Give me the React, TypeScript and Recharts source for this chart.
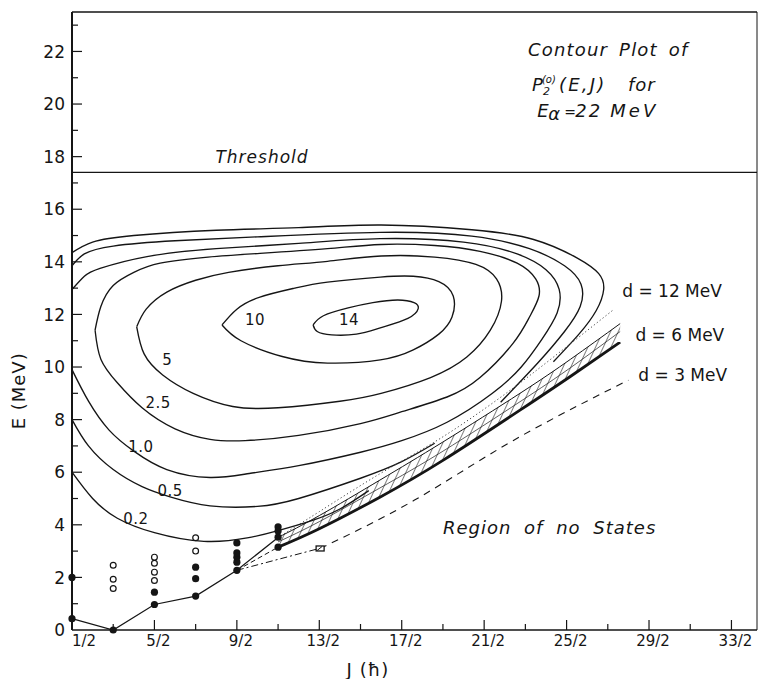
import React from 'react';
import { ComposedChart, XAxis, YAxis, Line, Area, Scatter, ReferenceLine, ReferenceDot } from 'recharts';

const FONT = "'DejaVu Sans', 'Liberation Sans', sans-serif";
const INK = '#151515';

// ---- axes ----
const jTicks = [0.5, 1.5, 2.5, 3.5, 4.5, 5.5, 6.5, 7.5, 8.5, 9.5, 10.5, 11.5, 12.5, 13.5, 14.5, 15.5, 16.5];
const jTickLabels = ['1/2', '5/2', '9/2', '13/2', '17/2', '21/2', '25/2', '29/2', '33/2'];
const eTicks = [0, 1, 2, 3, 4, 5, 6, 7, 8, 9, 10, 11, 12, 13, 14, 15, 16, 17, 18, 19, 20, 21, 22, 23];
const eTickLabels = ['0', '2', '4', '6', '8', '10', '12', '14', '16', '18', '20', '22'];
const J_DOMAIN: [number, number] = [0.5, 17.12];
const E_DOMAIN: [number, number] = [0, 23.5];

type P = [number, number];

// ---- contours of P2(E,J), [J, E] ----
const contour14: P[] = [
  [6.35, 11.6], [6.6, 11.95], [7.2, 12.25], [7.8, 12.45], [8.4, 12.55], [8.8, 12.45], [8.9, 12.22],
  [8.65, 11.85], [8.0, 11.5], [7.4, 11.25], [6.8, 11.22], [6.45, 11.35], [6.35, 11.6],
];
const contour10: P[] = [
  [4.14, 11.6], [4.5, 12.2], [5.06, 12.66], [5.9, 13.0], [6.7, 13.23], [7.98, 13.42], [8.78, 13.45],
  [9.4, 13.25], [9.75, 12.7], [9.72, 11.9], [9.4, 11.25], [8.78, 10.65], [7.98, 10.27], [6.7, 10.15],
  [5.6, 10.4], [4.6, 11.0], [4.14, 11.6],
];
const contour5: P[] = [
  [2.07, 11.53], [2.3, 12.2], [2.8, 12.85], [3.5, 13.3], [4.3, 13.6], [5.5, 13.85], [6.7, 14.02],
  [8.0, 14.22], [9.3, 14.18], [10.3, 13.9], [10.8, 13.35], [10.92, 12.5], [10.65, 11.4], [10.08, 10.38],
  [9.2, 9.6], [8.0, 9.0], [7.0, 8.7], [5.5, 8.45], [4.4, 8.5], [3.44, 9.0], [2.7, 9.7], [2.25, 10.5], [2.07, 11.53],
];
const contour2p5: P[] = [
  [1.06, 11.4], [1.2, 12.3], [1.5, 13.1], [2.0, 13.6], [2.64, 13.95], [3.8, 14.18], [5.06, 14.32],
  [6.7, 14.5], [8.0, 14.66], [9.3, 14.62], [10.4, 14.4], [11.3, 13.95], [11.75, 13.35], [11.83, 12.7],
  [11.6, 11.9], [11.2, 10.9], [10.4, 9.6], [9.6, 8.86], [8.5, 8.3], [7.5, 7.85], [6.0, 7.4], [4.7, 7.2],
  [3.85, 7.25], [3.0, 7.65], [2.2, 8.45], [1.6, 9.4], [1.2, 10.3], [1.06, 11.4],
];
const contour1p0: P[] = [
  [0.5, 12.95], [0.8, 13.45], [1.18, 13.75], [2.32, 14.2], [4.0, 14.5], [6.0, 14.7], [7.98, 14.88],
  [10.0, 14.75], [11.3, 14.3], [12.0, 13.7], [12.32, 12.95], [12.27, 12.05], [11.9, 11.05], [11.4, 10.0],
  [10.7, 9.0], [9.6, 7.9], [8.5, 7.2], [7.5, 6.76], [6.0, 6.25], [4.8, 5.95], [3.85, 5.8], [2.8, 6.1],
  [2.0, 6.8], [1.4, 7.6], [0.9, 8.7], [0.5, 9.9],
];
const contour0p5Upper: P[] = [
  [0.5, 13.85], [0.8, 14.3], [1.5, 14.6], [3.0, 14.8], [5.0, 14.95], [7.98, 15.12], [10.2, 14.98],
  [11.6, 14.5], [12.45, 13.85], [12.85, 13.15], [12.83, 12.3], [12.45, 11.35], [11.8, 10.15], [10.9, 8.66],
];
const contour0p5Lower: P[] = [
  [0.5, 8.0], [0.9, 7.0], [1.5, 6.1], [2.2, 5.45], [2.9, 5.05], [3.85, 4.72], [5.0, 4.7], [6.0, 5.0],
  [7.5, 5.77], [8.5, 6.4], [9.3, 7.1],
];
const contour0p2Upper: P[] = [
  [0.5, 14.35], [1.0, 14.75], [2.0, 15.0], [4.0, 15.2], [6.0, 15.3], [8.0, 15.4], [10.2, 15.22],
  [11.7, 14.85], [12.75, 14.15], [13.28, 13.55], [13.4, 12.95], [13.22, 12.15], [12.8, 11.25], [12.18, 10.2],
];
const contour0p2Lower: P[] = [
  [0.5, 6.0], [1.0, 5.0], [1.6, 4.25], [2.5, 3.7], [3.7, 3.37], [4.75, 3.5], [5.5, 3.78], [6.3, 4.15],
  [7.0, 4.6], [7.7, 5.3],
];

// ---- boundaries and lowest states ----
const yrastLine: P[] = [[0.5, 0.43], [1.5, 0], [2.5, 0.97], [3.5, 1.29], [4.5, 2.27], [5.5, 3.52]];
const dashShort: P[] = [[4.5, 2.27], [5.5, 3.15]];
const dashDot: P[] = [[4.5, 2.27], [6.45, 3.08]];
const d12Line: P[] = [[5.5, 3.52], [6.5, 4.5], [7.98, 5.95], [9.4, 7.25], [10.9, 8.85], [12.2, 10.4], [13.63, 12.17]];
const d3Line: P[] = [[6.52, 3.1], [8.8, 4.93], [11.2, 7.2], [14.0, 9.5]];
const bandJ = [5.5, 6.5, 7.97, 9.5, 11.37, 12.6, 13.8];
const bandLow = [3.15, 3.85, 5.05, 6.45, 8.36, 9.65, 10.95];
const bandHigh = [3.52, 4.35, 5.7, 7.15, 9.0, 10.3, 11.65];
const bandMid = [3.35, 4.12, 5.4, 6.8, 8.68, 9.98, 11.35];

const filledDots: P[] = [
  [0.5, 0.43], [0.5, 2.0], [1.5, 0], [2.5, 0.97], [2.5, 1.44], [3.5, 1.29], [3.5, 1.95], [3.5, 2.39],
  [4.5, 2.27], [4.5, 2.58], [4.5, 2.77], [4.5, 2.93], [4.5, 3.31], [5.5, 3.15], [5.5, 3.53], [5.5, 3.76], [5.5, 3.92],
];
const openDots: P[] = [
  [1.5, 1.58], [1.5, 1.93], [1.5, 2.46], [2.5, 1.88], [2.5, 2.2], [2.5, 2.54], [2.5, 2.77], [3.5, 3.0], [3.5, 3.51],
];
const squareMark: P[] = [[6.52, 3.1]];
const THRESHOLD = 17.4;

const contourLabels = [
  { J: 7.22, E: 11.79, text: '14' },
  { J: 4.94, E: 11.82, text: '10' },
  { J: 2.81, E: 10.3, text: '5' },
  { J: 2.59, E: 8.66, text: '2.5' },
  { J: 2.17, E: 6.99, text: '1.0' },
  { J: 2.88, E: 5.31, text: '0.5' },
  { J: 2.05, E: 4.25, text: '0.2' },
];

const pts = (a: P[]) => a.map(([J, E]) => ({ J, E }));
const bandData = bandJ.map((J, i) => ({ J, band: [bandLow[i], bandHigh[i]] }));
const bandLowPts = bandJ.map((J, i) => ({ J, E: bandLow[i] }));
const bandHighPts = bandJ.map((J, i) => ({ J, E: bandHigh[i] }));
const bandMidPts = bandJ.map((J, i) => ({ J, E: bandMid[i] }));

// ---- ticks ----
const BottomTick = (props: any) => {
  const { x, y, payload } = props;
  const v = payload.value as number;
  const k = Math.round(v - 0.5);
  const major = k % 2 === 0;
  const idx = k / 2;
  return (
    <g>
      {k > 0 && <line x1={x} x2={x} y1={y} y2={y - (major ? 10 : 6)} stroke={INK} strokeWidth={1.2} />}
      {major && (
        <text x={x + (idx === 0 ? 12 : 4)} y={y + 16} textAnchor="middle" fontSize={15} fontFamily={FONT} fill={INK}>
          {jTickLabels[idx]}
        </text>
      )}
    </g>
  );
};
const TopTick = (props: any) => {
  const { x, y, payload } = props;
  if (payload.value <= 0.5) return <g />;
  return <line x1={x} x2={x} y1={y} y2={y + 6} stroke={INK} strokeWidth={1} />;
};
const LeftTick = (props: any) => {
  const { x, y, payload } = props;
  const v = payload.value as number;
  const major = v % 2 === 0;
  return (
    <g>
      {v > 0 && <line x1={x} x2={x + (major ? 10 : 6)} y1={y} y2={y} stroke={INK} strokeWidth={1.2} />}
      {major && (
        <text x={x - 7} y={y} dy="0.36em" textAnchor="end" fontSize={17} fontFamily={FONT} fill={INK}>
          {eTickLabels[v / 2]}
        </text>
      )}
    </g>
  );
};
const RightTick = (props: any) => {
  const { x, y, payload } = props;
  if (payload.value <= 0) return <g />;
  return <line x1={x} x2={x - 8} y1={y} y2={y} stroke={INK} strokeWidth={1} />;
};

const lineProps = {
  dataKey: 'E',
  dot: false,
  activeDot: false,
  isAnimationActive: false,
  fill: 'none',
} as const;

const contour = (key: string, data: P[], type: 'natural' | 'linear' = 'natural') => (
  <Line key={key} {...lineProps} data={pts(data)} type={type} stroke={INK} strokeWidth={1.35} />
);

const note = (key: string, J: number, E: number, render: (x: number, y: number) => React.ReactNode) => (
  <ReferenceDot key={key} x={J} y={E} r={0} ifOverflow="visible" shape={(p: any) => <g>{render(p.cx, p.cy)}</g>} />
);

const T = { fontFamily: FONT, fill: INK } as const;

export default function App() {
  return (
    <div style={{ position: 'absolute', left: 0, top: 0, width: 759, height: 679, background: '#fff' }}>
      <ComposedChart width={759} height={679} margin={{ top: 0, right: 0, bottom: 0, left: 0 }}>
        <defs>
          <pattern id="hatch" width="7" height="7" patternUnits="userSpaceOnUse" patternTransform="rotate(25)">
            <line x1="0" y1="0" x2="0" y2="7" stroke="#111" strokeWidth="1.1" />
          </pattern>
        </defs>
        <XAxis
          type="number"
          dataKey="J"
          domain={J_DOMAIN}
          ticks={jTicks}
          interval={0}
          height={49}
          tickSize={0}
          tickMargin={0}
          tickLine={false}
          tick={BottomTick}
          axisLine={{ stroke: INK, strokeWidth: 1.6 }}
          label={{
            content: (p: any) => {
              const vb = p.viewBox;
              return (
                <text x={vb.x + vb.width * 0.432} y={vb.y + 46} textAnchor="middle" fontSize={18} {...T} letterSpacing={1}>
                  J  (ħ)
                </text>
              );
            },
          }}
        />
        <XAxis
          xAxisId="t"
          orientation="top"
          type="number"
          dataKey="J"
          domain={J_DOMAIN}
          ticks={jTicks}
          interval={0}
          height={12}
          tickSize={0}
          tickMargin={0}
          tickLine={false}
          tick={TopTick}
          axisLine={{ stroke: INK, strokeWidth: 1.4 }}
        />
        <YAxis
          type="number"
          dataKey="E"
          domain={E_DOMAIN}
          ticks={eTicks}
          interval={0}
          width={72}
          tickSize={0}
          tickMargin={0}
          tickLine={false}
          tick={LeftTick}
          axisLine={{ stroke: INK, strokeWidth: 2 }}
          label={{
            content: (p: any) => {
              const vb = p.viewBox;
              const cx = vb.x + 19;
              const cy = vb.y + vb.height * 0.613;
              return (
                <text x={cx} y={cy} transform={`rotate(-90 ${cx} ${cy})`} dy="0.35em" textAnchor="middle" fontSize={18} {...T} letterSpacing={1}>
                  E (MeV)
                </text>
              );
            },
          }}
        />
        <YAxis
          yAxisId="r"
          orientation="right"
          type="number"
          domain={E_DOMAIN}
          ticks={eTicks}
          interval={0}
          width={2}
          tickSize={0}
          tickMargin={0}
          tickLine={false}
          tick={RightTick}
          axisLine={{ stroke: INK, strokeWidth: 1 }}
        />

        <ReferenceLine y={THRESHOLD} stroke={INK} strokeWidth={1.1} ifOverflow="visible" />

        <Area
          data={bandData}
          dataKey="band"
          type="linear"
          stroke="none"
          fill="url(#hatch)"
          fillOpacity={1}
          isAnimationActive={false}
          activeDot={false}
        />
        <Line {...lineProps} data={bandLowPts} type="natural" stroke={INK} strokeWidth={2.8} />
        <Line {...lineProps} data={bandHighPts} type="natural" stroke={INK} strokeWidth={1} />
        <Line {...lineProps} data={bandMidPts} type="natural" stroke={INK} strokeWidth={0.7} />

        {contour('c14', contour14)}
        {contour('c10', contour10)}
        {contour('c5', contour5)}
        {contour('c25', contour2p5)}
        {contour('c10b', contour1p0)}
        {contour('c05u', contour0p5Upper)}
        {contour('c05l', contour0p5Lower)}
        {contour('c02u', contour0p2Upper)}
        {contour('c02l', contour0p2Lower)}

        <Line {...lineProps} data={pts(yrastLine)} type="linear" stroke={INK} strokeWidth={1.2} />
        <Line {...lineProps} data={pts(dashShort)} type="linear" stroke={INK} strokeWidth={1} strokeDasharray="5 3" />
        <Line {...lineProps} data={pts(dashDot)} type="linear" stroke={INK} strokeWidth={1} strokeDasharray="7 3 2 3" />
        <Line {...lineProps} data={pts(d12Line)} type="natural" stroke="#444" strokeWidth={1} strokeDasharray="1.2 2.5" />
        <Line {...lineProps} data={pts(d3Line)} type="natural" stroke={INK} strokeWidth={1.1} strokeDasharray="7 6" />

        <Scatter
          data={pts(filledDots)}
          dataKey="E"
          isAnimationActive={false}
          shape={(p: any) => <circle cx={p.cx} cy={p.cy} r={3.6} fill={INK} />}
        />
        <Scatter
          data={pts(openDots)}
          dataKey="E"
          isAnimationActive={false}
          shape={(p: any) => <circle cx={p.cx} cy={p.cy} r={2.9} fill="#fff" stroke={INK} strokeWidth={1.2} />}
        />
        <Scatter
          data={pts(squareMark)}
          dataKey="E"
          isAnimationActive={false}
          shape={(p: any) => (
            <g>
              <rect x={p.cx - 4} y={p.cy - 2.5} width={8} height={5} fill="#fff" stroke={INK} strokeWidth={1.3} />
              <line x1={p.cx - 3} y1={p.cy + 2} x2={p.cx + 2} y2={p.cy - 2} stroke={INK} strokeWidth={1} />
            </g>
          )}
        />

        {contourLabels.map((l) =>
          note('lbl' + l.text, l.J, l.E, (x, y) => (
            <text x={x} y={y} dy="0.36em" textAnchor="middle" fontSize={15} {...T} letterSpacing={0.5}>
              {l.text}
            </text>
          ))
        )}

        {note('thr', 5.11, 17.76, (x, y) => (
          <text x={x} y={y} textAnchor="middle" fontSize={17} fontStyle="italic" letterSpacing={1} {...T}>
            Threshold
          </text>
        ))}
        {note('title1', 13.51, 21.84, (x, y) => (
          <text x={x} y={y} textAnchor="middle" fontSize={18} fontStyle="italic" letterSpacing={1.2} wordSpacing={4} {...T}>
            Contour Plot of
          </text>
        ))}
        {note('title2', 11.66, 20.5, (x, y) => (
          <text x={x} y={y} fontSize={18} fontStyle="italic" {...T}>
            <tspan>P</tspan>
            <tspan x={x + 10} dy={-8} fontSize={10}>(o)</tspan>
            <tspan x={x + 11} dy={12} fontSize={11}>2</tspan>
            <tspan x={x + 27} dy={-4} letterSpacing={2.2}>(E,J)</tspan>
            <tspan x={x + 96} letterSpacing={1}>for</tspan>
          </text>
        ))}
        {note('title3', 11.79, 19.5, (x, y) => (
          <text x={x} y={y} fontSize={18} fontStyle="italic" {...T}>
            <tspan>E</tspan>
            <tspan x={x + 11} dy={3}>α</tspan>
            <tspan x={x + 27} dy={-3} fontSize={14}>=</tspan>
            <tspan x={x + 38} letterSpacing={2}>22</tspan>
            <tspan x={x + 73} letterSpacing={3}>MeV</tspan>
          </text>
        ))}
        {note('d12', 13.85, 12.66, (x, y) => (
          <text x={x} y={y} fontSize={17} {...T}>d = 12 MeV</text>
        ))}
        {note('d6', 14.17, 10.99, (x, y) => (
          <text x={x} y={y} fontSize={17} {...T}>d = 6 MeV</text>
        ))}
        {note('d3', 14.24, 9.46, (x, y) => (
          <text x={x} y={y} fontSize={17} {...T}>d = 3 MeV</text>
        ))}
        {note('region', 9.5, 3.64, (x, y) => (
          <text x={x} y={y} fontSize={18} fontStyle="italic" letterSpacing={1} wordSpacing={6} {...T}>
            Region of no States
          </text>
        ))}
      </ComposedChart>
    </div>
  );
}
